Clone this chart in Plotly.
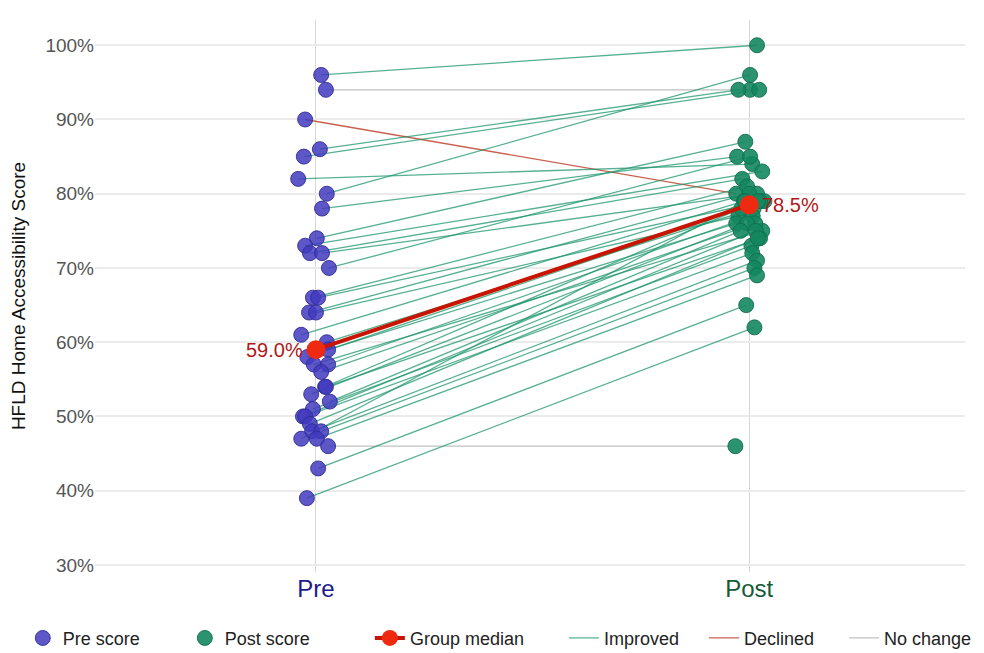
import plotly.graph_objects as go

# ---- data (percent scores per participant) ----
pre_scores = [96, 94, 90, 86, 85, 82, 80, 78, 74, 73, 72, 72, 70, 66, 66, 64, 64, 61, 60, 59,
              59, 58, 57, 57, 56, 54, 54, 53, 52, 51, 50, 50, 49, 48, 48, 47, 47, 46, 43, 39]
post_scores = [100, 94, 80, 94, 94, 84, 96, 85, 87, 83, 82, 80, 85, 81, 79, 80, 77, 79, 78, 79,
               76, 78, 75, 77, 76, 79, 74, 76, 75, 73, 75, 72, 74, 71, 70, 69, 79, 46, 65, 62]
# horizontal jitter (fraction of category spacing)
pre_jitter = [0.012, 0.023, -0.025, 0.009, -0.028, -0.041, 0.025, 0.014, 0.002, -0.025, -0.014, 0.014,
              0.030, -0.007, 0.005, -0.016, 0.0, -0.034, 0.025, 0.0, 0.028, -0.02, -0.005, 0.028,
              0.012, 0.021, 0.023, -0.011, 0.032, -0.007, -0.030, -0.025, -0.014, -0.009, 0.012,
              0.002, -0.034, 0.028, 0.005, -0.021]
post_jitter = [0.018, 0.002, -0.030, -0.025, 0.023, 0.007, 0.002, -0.028, -0.009, 0.030, -0.016,
               0.018, 0.002, -0.005, 0.035, 0.0, -0.025, -0.012, 0.010, 0.025, -0.030, -0.018,
               0.030, 0.008, 0.014, 0.020, 0.025, -0.005, -0.020, 0.005, 0.015, 0.007, 0.020,
               0.018, 0.012, 0.018, -0.010, -0.032, -0.007, 0.012]
pre_median = 59.0
post_median = 78.5
categories = ["Pre", "Post"]
y_ticks = [30, 40, 50, 60, 70, 80, 90, 100]

NB = "\u00a0"
legend_names = {
    "Pre score": "Pre score" + NB * 8,
    "Post score": "Post score" + NB * 11,
    "Group median": "Group median" + NB * 7,
    "Improved": "Improved" + NB * 4,
    "Declined": "Declined" + NB * 5,
    "No change": "No change",
}

fig = go.Figure()

col_imp = "rgba(30,150,110,0.75)"
col_dec = "rgba(195,80,60,0.9)"
col_same = "rgba(185,185,185,0.9)"

first = {"Improved": True, "Declined": True, "No change": True}
for a, b, ja, jb in zip(pre_scores, post_scores, pre_jitter, post_jitter):
    if b > a:
        name, col = "Improved", col_imp
    elif b < a:
        name, col = "Declined", col_dec
    else:
        name, col = "No change", col_same
    rank = {"Improved": 4, "Declined": 5, "No change": 6}[name]
    fig.add_trace(go.Scatter(
        x=[0 + ja, 1 + jb], y=[a, b], mode="lines",
        line=dict(color=col, width=1.3),
        name=legend_names[name], legendgroup=name, showlegend=first[name], legendrank=rank,
        hoverinfo="skip"))
    first[name] = False

fig.add_trace(go.Scatter(
    x=[0 + j for j in pre_jitter], y=pre_scores, mode="markers", name=legend_names["Pre score"],
    marker=dict(size=15, color="rgba(65,58,190,0.85)", line=dict(color="rgba(50,45,150,0.9)", width=1)),
    legendrank=1))
fig.add_trace(go.Scatter(
    x=[1 + j for j in post_jitter], y=post_scores, mode="markers", name=legend_names["Post score"],
    marker=dict(size=15, color="rgba(20,135,95,0.9)", line=dict(color="rgba(15,110,80,0.9)", width=1)),
    legendrank=2))
fig.add_trace(go.Scatter(
    x=[0, 1], y=[pre_median, post_median], mode="lines+markers", name=legend_names["Group median"],
    line=dict(color="#c81400", width=4),
    marker=dict(size=19, color="#ee2a10"),
    legendrank=3))

fig.add_annotation(x=0, y=pre_median, text=f"{pre_median:.1f}%", showarrow=False,
                   xanchor="right", xshift=-11, font=dict(size=20, color="#b01818"))
fig.add_annotation(x=1, y=post_median, text=f"{post_median:.1f}%", showarrow=False,
                   xanchor="left", xshift=11, font=dict(size=20, color="#b01818"))

fig.update_layout(
    width=984, height=653,
    margin=dict(l=95, r=19, t=20, b=81, autoexpand=False),
    paper_bgcolor="white", plot_bgcolor="white",
    font=dict(family="Liberation Sans, Arial, sans-serif", color="#444"),
    legend=dict(orientation="h", x=-0.083, xanchor="left", y=-0.12, yanchor="middle",
                font=dict(size=18, color="#222"), itemwidth=30, traceorder="normal"),
    xaxis=dict(range=[-0.51, 1.498], tickvals=[0, 1],
               ticktext=["<span style='color:#1c1a8c'>Pre</span>",
                         "<span style='color:#155a38'>Post</span>"],
               tickfont=dict(size=24), showgrid=True, gridcolor="#d6d6d6", gridwidth=1,
               zeroline=False, showline=False, ticks=""),
    yaxis=dict(range=[29.05, 103.4], tickvals=y_ticks, ticktext=[f"{v}%" for v in y_ticks],
               tickfont=dict(size=19, color="#555"),
               title=dict(text="HFLD Home Accessibility Score", font=dict(size=19, color="#111"),
                          standoff=14),
               showgrid=True, gridcolor="#ebebeb", gridwidth=1.5, zeroline=False, ticks=""),
)

fig.write_html("out.html", post_script="document.body.style.margin='0';",
               config={"displayModeBar": False})
